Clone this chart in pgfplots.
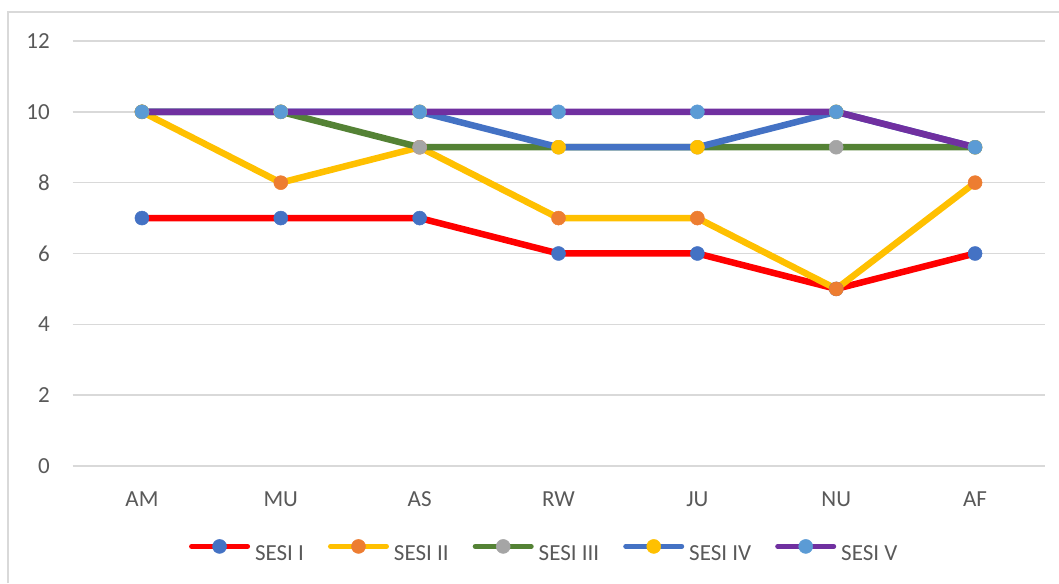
\documentclass[border=0pt]{standalone}
\usepackage{pgfplots}
\pgfplotsset{compat=1.18}
\usepackage{fontspec}
\setmainfont{Carlito}
\definecolor{gridc}{HTML}{D9D9D9}
\definecolor{txtc}{HTML}{595959}
\definecolor{cred}{HTML}{FF0000}
\definecolor{cyel}{HTML}{FFC000}
\definecolor{cgreen}{HTML}{548235}
\definecolor{cblue}{HTML}{4472C4}
\definecolor{cpurple}{HTML}{7030A0}
\definecolor{corange}{HTML}{ED7D31}
\definecolor{cgray}{HTML}{A5A5A5}
\definecolor{clblue}{HTML}{5B9BD5}
\begin{document}
\begin{tikzpicture}[x=1pt,y=1pt]
\useasboundingbox (0,0) rectangle (1059,583);
\draw[color=gridc, line width=2pt] (8,0) -- (8,571) -- (1059,571);
\begin{axis}[
  at={(72.5pt,117pt)}, anchor=south west,
  scale only axis, width=972pt, height=425pt,
  xmin=-0.5, xmax=6.5, ymin=0, ymax=12,
  ytick={0,2,...,12},
  xtick={0,1,2,3,4,5,6},
  xticklabels={AM,MU,AS,RW,JU,NU,AF},
  axis line style={draw=none},
  major tick length=0pt,
  ymajorgrids,
  grid style={color=gridc, line width=1.5pt},
  clip=false,
  /pgf/number format/assume math mode=true,
  tick label style={font=\fontsize{23}{27}\selectfont, color=txtc, inner sep=0pt},
  yticklabel style={anchor=east, xshift=-22.5pt},
  xticklabel style={anchor=north, yshift=-25.5pt},
  every axis plot/.append style={line width=6.5pt, line join=round},
  legend columns=5,
  legend style={at={(0.4843,-0.1995)}, anchor=center, draw=none, fill=none,
    font=\fontsize{23}{27}\selectfont, text=txtc,
    nodes={inner sep=0pt},
    /tikz/every odd column/.append style={column sep=5pt},
    /tikz/every even column/.append style={column sep=24pt}},
  legend image code/.code={\draw[mark repeat=2, mark phase=2, #1, line width=5pt, line cap=round] plot coordinates {(0pt,7.5pt) (28pt,7.5pt) (56pt,7.5pt)};},
]
\addplot[color=cred, mark=*, mark size=7pt, mark options={fill=cblue, draw=cblue, line width=0.5pt}]
  coordinates {(0,7) (1,7) (2,7) (3,6) (4,6) (5,5) (6,6)};
\addlegendentry{SESI I}
\addplot[color=cyel, mark=*, mark size=7pt, mark options={fill=corange, draw=corange, line width=0.5pt}]
  coordinates {(0,10) (1,8) (2,9) (3,7) (4,7) (5,5) (6,8)};
\addlegendentry{SESI II}
\addplot[color=cgreen, mark=*, mark size=7pt, mark options={fill=cgray, draw=cgray, line width=0.5pt}]
  coordinates {(0,10) (1,10) (2,9) (3,9) (4,9) (5,9) (6,9)};
\addlegendentry{SESI III}
\addplot[color=cblue, mark=*, mark size=7pt, mark options={fill=cyel, draw=cyel, line width=0.5pt}]
  coordinates {(0,10) (1,10) (2,10) (3,9) (4,9) (5,10) (6,9)};
\addlegendentry{SESI IV}
\addplot[color=cpurple, mark=*, mark size=7pt, mark options={fill=clblue, draw=clblue, line width=0.5pt}]
  coordinates {(0,10) (1,10) (2,10) (3,10) (4,10) (5,10) (6,9)};
\addlegendentry{SESI V}
\end{axis}
\end{tikzpicture}
\end{document}
